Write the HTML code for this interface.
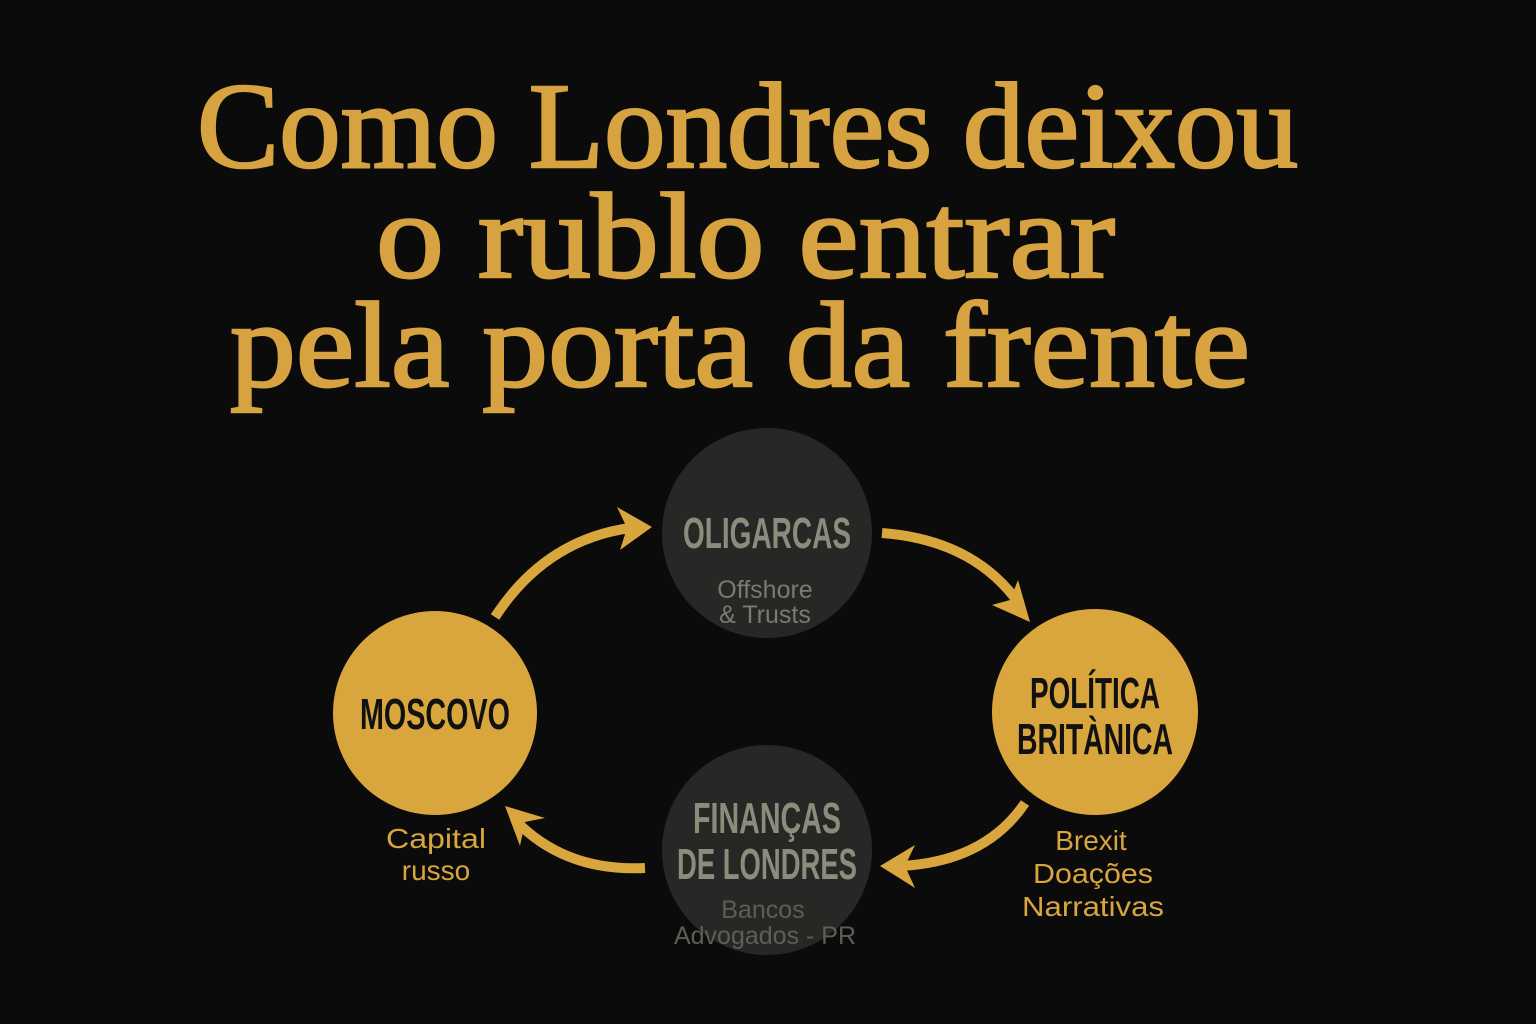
<!DOCTYPE html>
<html><head><meta charset="utf-8"><style>
html,body{margin:0;padding:0;background:#0b0b0b;}
svg{display:block}
</style></head><body>
<svg width="1536" height="1024" viewBox="0 0 1536 1024" xmlns="http://www.w3.org/2000/svg">
<rect width="1536" height="1024" fill="#0b0b0b"/>
<g font-family="Liberation Serif, serif" font-weight="normal" fill="#d7a340" stroke="#d7a340" stroke-width="2.5" font-size="122">
<text x="197" y="167" textLength="1101" lengthAdjust="spacingAndGlyphs">Como Londres deixou</text>
<text x="376" y="277" textLength="739" lengthAdjust="spacingAndGlyphs">o rublo entrar</text>
<text x="230" y="386" textLength="1020" lengthAdjust="spacingAndGlyphs">pela porta da frente</text>
</g>
<circle cx="767" cy="533" r="105" fill="#272725"/>
<circle cx="767" cy="850" r="105" fill="#272725"/>
<circle cx="435" cy="713" r="102" fill="#d9a53d"/>
<circle cx="1095" cy="712" r="103" fill="#d9a53d"/>
<g fill="none" stroke="#d9a53d" stroke-width="10">
<path d="M495 617 Q545 540 630 528"/>
<path d="M882 533 Q975 540 1020 605"/>
<path d="M1025 803 Q985 862 900 866"/>
<path d="M645 868 Q565 872 515 820"/>
</g>
<g fill="#d9a53d">
<polygon points="652,527 617,507 627,528 620,550"/>
<polygon points="1030,622 992,605 1010,600 1018,580"/>
<polygon points="880,866 915,845 905,866 915,888"/>
<polygon points="505,806 545,818 525,822 520,846"/>
</g>
<g font-family="Liberation Sans Narrow, Liberation Sans, sans-serif" font-weight="bold" text-anchor="middle">
<text x="767" y="548" font-size="44" fill="#8c8c7c" textLength="168" lengthAdjust="spacingAndGlyphs">OLIGARCAS</text>
<text x="767" y="833" font-size="44" fill="#8c8c7c" textLength="148" lengthAdjust="spacingAndGlyphs">FINANÇAS</text>
<text x="767" y="879" font-size="44" fill="#8c8c7c" textLength="180" lengthAdjust="spacingAndGlyphs">DE LONDRES</text>
<text x="435" y="729" font-size="44" fill="#111" textLength="150" lengthAdjust="spacingAndGlyphs">MOSCOVO</text>
<text x="1095" y="708" font-size="44" fill="#111" textLength="130" lengthAdjust="spacingAndGlyphs">POLÍTICA</text>
<text x="1095" y="754" font-size="44" fill="#111" textLength="156" lengthAdjust="spacingAndGlyphs">BRITÀNICA</text>
</g>
<g font-family="Liberation Sans, sans-serif" text-anchor="middle" font-size="25">
<text x="765" y="598" fill="#7a7a6e">Offshore</text>
<text x="765" y="623" fill="#7a7a6e">&amp; Trusts</text>
<text x="763" y="918" fill="#5e5e56">Bancos</text>
<text x="765" y="944" fill="#5e5e56">Advogados - PR</text>
<text x="436" y="848" fill="#d9a53d" font-size="28" textLength="100" lengthAdjust="spacingAndGlyphs">Capital</text>
<text x="436" y="880" fill="#d9a53d" font-size="28">russo</text>
<text x="1091" y="850" fill="#d9a53d" font-size="28">Brexit</text>
<text x="1093" y="883" fill="#d9a53d" font-size="28" textLength="120" lengthAdjust="spacingAndGlyphs">Doações</text>
<text x="1093" y="916" fill="#d9a53d" font-size="28" textLength="142" lengthAdjust="spacingAndGlyphs">Narrativas</text>
</g>
</svg>
</body></html>
